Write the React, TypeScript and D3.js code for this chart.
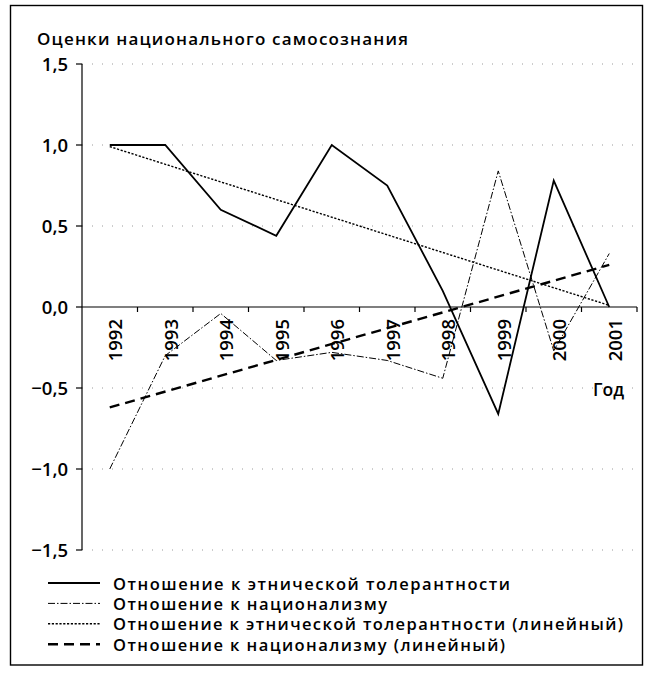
import React from "react";
import * as d3 from "d3";

const years = ["1992", "1993", "1994", "1995", "1996", "1997", "1998", "1999", "2000", "2001"];
const tolerance = [1.0, 1.0, 0.6, 0.44, 1.0, 0.75, 0.1, -0.66, 0.78, 0.0];
const nationalism = [-1.0, -0.3, -0.04, -0.33, -0.28, -0.33, -0.44, 0.84, -0.27, 0.33];
const toleranceTrend = [0.99, 0.01]; // first year, last year
const nationalismTrend = [-0.62, 0.26]; // first year, last year
const yTicks = [-1.5, -1.0, -0.5, 0, 0.5, 1.0, 1.5];
const yTickLabels = ["−1,5", "−1,0", "−0,5", "0,0", "0,5", "1,0", "1,5"];
const title = "Оценки национального самосознания";
const xTitle = "Год";
const legendLabels = [
  "Отношение к этнической толерантности",
  "Отношение к национализму",
  "Отношение к этнической толерантности (линейный)",
  "Отношение к национализму (линейный)",
];

const FONT = "'Open Sans', 'DejaVu Sans', sans-serif";

export default function App() {
  const W = 653, H = 675;
  const x = d3.scaleBand<string>().domain(years).range([82, 637]);
  const cx = (d: string) => (x(d) as number) + x.bandwidth() / 2;
  const y = d3.scaleLinear().domain([-1.5, 1.5]).range([550, 64]);
  const line = d3.line<[number, number]>().x((d) => d[0]).y((d) => d[1]);

  const tolPts: [number, number][] = years.map((yr, i) => [cx(yr), y(tolerance[i])]);
  const natPts: [number, number][] = years.map((yr, i) => [cx(yr), y(nationalism[i])]);
  const first = years[0], last = years[years.length - 1];
  const tolTrendPts: [number, number][] = [[cx(first), y(toleranceTrend[0])], [cx(last), y(toleranceTrend[1])]];
  const natTrendPts: [number, number][] = [[cx(first), y(nationalismTrend[0])], [cx(last), y(nationalismTrend[1])]];

  const styles = [
    { dash: "none", width: 1.8 },
    { dash: "7 2 1.5 2", width: 1 },
    { dash: "2.2 1.6", width: 1.4 },
    { dash: "10 6", width: 2.4 },
  ];
  const legendWidths = [397, 274, 510, 392];

  const x0 = 82, x1 = 637;
  const bandEdges = years.map((yr) => x(yr) as number).concat([x1]);

  return (
    <svg width={W} height={H} style={{ position: "absolute", left: 0, top: 0, background: "#fff" }} fontFamily={FONT} fontWeight={600}>
      <rect x={10.5} y={5.5} width={632} height={659.5} fill="none" stroke="#000" strokeWidth={1.4} />
      <text x={37} y={45} fontSize={17} textLength={371} lengthAdjust="spacing" fill="#000">{title}</text>

      {/* gridlines */}
      {yTicks.filter((t) => t !== 0).map((t) => (
        <line key={"g" + t} x1={x0} x2={x1} y1={y(t)} y2={y(t)} stroke="#9a9a9a" strokeWidth={1} strokeDasharray="1 9" />
      ))}

      {/* y axis */}
      <line x1={x0} x2={x0} y1={y(1.5)} y2={y(-1.5)} stroke="#000" strokeWidth={1.2} />
      {yTicks.map((t, i) => (
        <g key={"yt" + t}>
          <line x1={x0 - 6} x2={x0} y1={y(t)} y2={y(t)} stroke="#000" strokeWidth={1.2} />
          <text x={68} y={y(t) + 6.5} fontSize={18.5} textAnchor="end" fill="#000">{yTickLabels[i]}</text>
        </g>
      ))}

      {/* x axis */}
      <line x1={x0} x2={x1} y1={y(0)} y2={y(0)} stroke="#000" strokeWidth={1.2} />
      {bandEdges.slice(1).map((e, i) => (
        <line key={"xt" + i} x1={e} x2={e} y1={y(0)} y2={y(0) + 5} stroke="#000" strokeWidth={1.2} />
      ))}
      {years.map((yr) => (
        <text key={"xl" + yr} transform={`translate(${cx(yr) + 12.5},${y(0) + 12}) rotate(-90)`} fontSize={18.5} textAnchor="end" fill="#000">{yr}</text>
      ))}
      <text x={593} y={396} fontSize={17.5} fill="#000">{xTitle}</text>

      {/* series */}
      <path d={line(natTrendPts) as string} fill="none" stroke="#000" strokeWidth={styles[3].width} strokeDasharray={styles[3].dash} />
      <path d={line(tolTrendPts) as string} fill="none" stroke="#000" strokeWidth={styles[2].width} strokeDasharray={styles[2].dash} />
      <path d={line(natPts) as string} fill="none" stroke="#000" strokeWidth={styles[1].width} strokeDasharray={styles[1].dash} />
      <path d={line(tolPts) as string} fill="none" stroke="#000" strokeWidth={styles[0].width} strokeLinejoin="miter" />

      {/* legend */}
      {legendLabels.map((lab, i) => {
        const ly = 583 + i * 20.4;
        return (
          <g key={"lg" + i}>
            <line x1={48} x2={100} y1={ly} y2={ly} stroke="#000" strokeWidth={styles[i].width} strokeDasharray={styles[i].dash === "none" ? undefined : styles[i].dash} />
            <text x={113} y={ly + 6.5} fontSize={16.5} textLength={legendWidths[i]} lengthAdjust="spacing" fill="#000">{lab}</text>
          </g>
        );
      })}
    </svg>
  );
}
